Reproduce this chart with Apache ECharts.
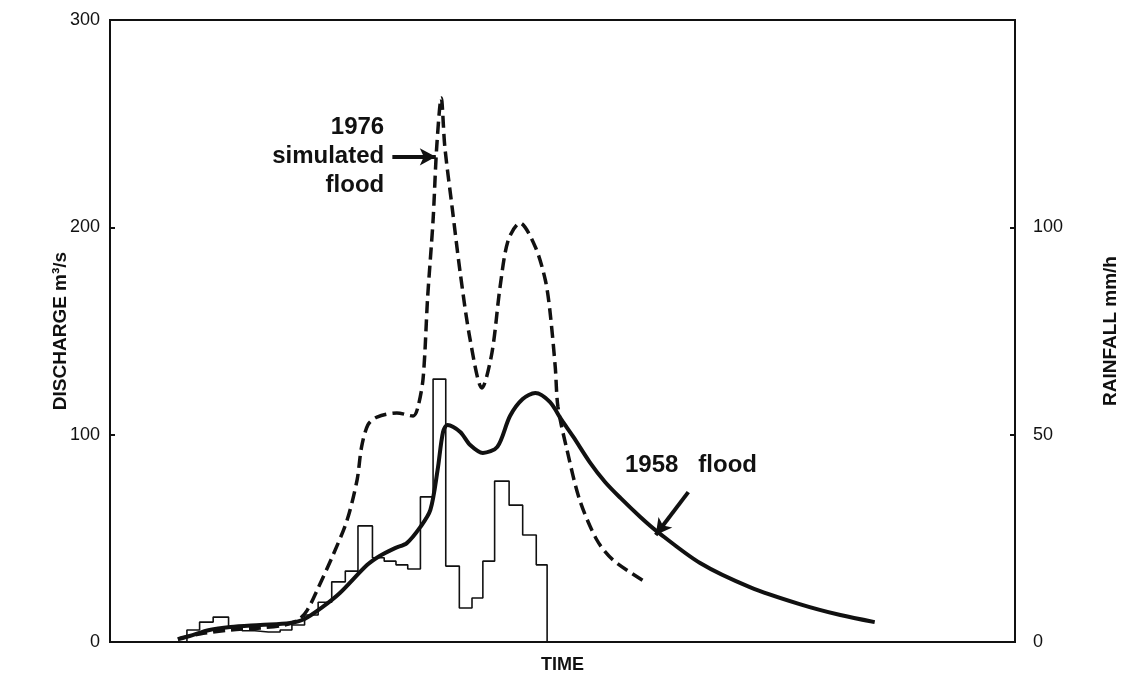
<!DOCTYPE html>
<html>
<head>
<meta charset="utf-8">
<script src="https://cdn.jsdelivr.net/npm/echarts@6/dist/echarts.min.js"></script>
<style>
  html, body { margin: 0; padding: 0; background: #fff; }
  #chart { width: 1137px; height: 677px; }
</style>
</head>
<body>
<div id="chart"></div>
<script>
// time in arbitrary units (0-100 across the frame), discharge in m3/s
const flood1958 = [
    [7.5, 1.4], [8.8, 2.9], [11.0, 5.8], [13.3, 7.2], [16.6, 8.2], [19.9, 9.2],
    [21.5, 11.1], [23.5, 16.9], [25.4, 23.6], [28.4, 37.1], [29.8, 41.5],
    [31.5, 45.3], [32.8, 47.7], [34.3, 55.5], [35.4, 63.7], [36.2, 83.0],
    [36.8, 101.3], [37.3, 104.7], [38.7, 101.3], [39.8, 95.0], [41.2, 91.2],
    [42.8, 94.1], [44.2, 109.0], [45.6, 117.2], [47.0, 120.1], [48.6, 115.8],
    [49.9, 107.1], [51.2, 98.9], [53.0, 86.8], [54.7, 77.2], [56.4, 69.5],
    [58.6, 60.3], [60.4, 53.5], [65.2, 38.1], [70.7, 26.5], [76.2, 18.3],
    [80.7, 13.0], [84.5, 9.6]
];

const flood1976 = [
    [7.5, 1.4], [9.9, 3.9], [13.3, 5.8], [16.6, 6.8], [19.3, 8.2], [20.8, 10.6],
    [21.8, 15.4], [22.9, 25.1], [24.6, 41.5], [26.2, 58.8], [27.3, 78.1],
    [27.8, 94.1], [28.5, 104.7], [29.5, 108.5], [31.7, 110.5], [33.5, 109.0],
    [34.0, 112.9], [34.6, 127.3], [35.1, 166.4], [35.7, 203.5], [36.1, 238.7],
    [36.6, 262.4], [37.0, 238.7], [37.8, 209.8], [38.7, 178.0], [39.8, 145.7],
    [41.1, 122.5], [42.2, 139.4], [43.1, 171.2], [44.0, 193.8], [45.3, 202.1],
    [47.0, 190.5], [48.1, 174.6], [48.6, 160.1], [49.2, 132.6], [49.5, 113.3],
    [50.5, 92.6], [51.9, 68.5], [53.8, 49.2], [55.6, 39.5], [59.3, 28.5]
];

// rainfall blocks: start time of each block and its intensity (mm/h)
const rainStart = [8.5, 9.9, 11.4, 13.1, 14.6, 16.0, 17.5, 18.8, 20.1, 21.5,
    23.0, 24.5, 26.0, 27.4, 29.0, 30.3, 31.6, 32.9, 34.3, 35.7, 37.1, 38.6,
    40.0, 41.2, 42.5, 44.1, 45.6, 47.1];
const rainValue = [2.9, 4.8, 6.0, 3.6, 2.7, 2.4, 2.4, 2.9, 4.1, 6.5,
    9.6, 14.5, 17.1, 28.0, 20.3, 19.5, 18.6, 17.6, 35.0, 63.4, 18.3, 8.2,
    10.6, 19.5, 38.8, 33.0, 25.8, 18.6];
const rainEnd = 48.3;

const rainSteps = [[rainStart[0], 0]]
    .concat(rainStart.map((t, i) => [t, rainValue[i]]))
    .concat([[rainEnd, 0]]);

const ink = "#111";
const font = "'Liberation Sans', Arial, Helvetica, sans-serif";

const chart = echarts.init(document.getElementById("chart"));

chart.setOption({
    animation: false,
    backgroundColor: "#fff",
    textStyle: {fontFamily: font, color: ink},
    grid: {
        left: 110, right: 122, top: 20, bottom: 35,
        outerBoundsMode: "none",
        containLabel: false,
        show: true, borderColor: ink, borderWidth: 2,
    },
    // left axis title drawn by hand so it can sit close to the tick labels
    graphic: [{
        type: "text",
        x: 61,
        y: 331,
        rotation: Math.PI / 2,
        style: {
            text: "DISCHARGE m³/s",
            font: "bold 19px " + font,
            fill: ink,
            textAlign: "center",
            textVerticalAlign: "middle",
        },
    }],
    xAxis: {
        type: "value",
        min: 0, max: 100,
        name: "TIME",
        nameLocation: "middle",
        nameGap: 14,
        nameTextStyle: {fontFamily: font, fontWeight: "bold", fontSize: 18, color: ink},
        axisLine: {lineStyle: {color: ink, width: 2}},
        axisTick: {show: false},
        axisLabel: {show: false},
        splitLine: {show: false},
    },
    yAxis: [
        {
            type: "value",
            min: 0, max: 300, interval: 100,
            axisLine: {show: true, lineStyle: {color: ink, width: 2}},
            axisTick: {show: true, inside: true, length: 5, lineStyle: {color: ink, width: 2}},
            axisLabel: {margin: 10, fontSize: 18, color: ink, fontFamily: font},
            splitLine: {show: false},
        },
        {
            type: "value",
            min: 0, max: 150, interval: 50,
            position: "right",
            name: "RAINFALL mm/h",
            nameLocation: "middle",
            nameRotate: 90,
            nameGap: 86,
            nameTextStyle: {fontFamily: font, fontWeight: "bold", fontSize: 19, color: ink},
            axisLine: {show: true, lineStyle: {color: ink, width: 2}},
            axisTick: {show: true, inside: true, length: 5, lineStyle: {color: ink, width: 2}},
            axisLabel: {
                margin: 18, fontSize: 18, color: ink, fontFamily: font,
                formatter: (v) => (v === 150 ? "" : String(v)),
            },
            splitLine: {show: false},
        },
    ],
    series: [
        {
            name: "Rainfall",
            type: "line",
            yAxisIndex: 1,
            step: "end",
            data: rainSteps,
            symbol: "none",
            lineStyle: {color: ink, width: 1.6},
            z: 2,
        },
        {
            name: "1976 simulated flood",
            type: "line",
            data: flood1976,
            smooth: 0.3,
            symbol: "none",
            lineStyle: {color: ink, width: 3.5, type: [12, 6]},
            z: 3,
            markLine: {
                silent: true,
                symbol: ["none", "arrow"],
                symbolSize: [13, 16],
                label: {show: false},
                lineStyle: {color: ink, width: 4, type: "solid"},
                data: [[{coord: [31.2, 234]}, {coord: [36.0, 234]}]],
            },
            markPoint: {
                silent: true,
                symbol: "circle",
                symbolSize: 0,
                data: [{
                    coord: [30.3, 234],
                    label: {
                        show: true,
                        position: "left",
                        distance: 0,
                        formatter: "1976\nsimulated\nflood",
                        align: "right",
                        lineHeight: 29,
                        fontFamily: font,
                        fontWeight: "bold",
                        fontSize: 24,
                        color: ink,
                    },
                }],
            },
        },
        {
            name: "1958 flood",
            type: "line",
            data: flood1958,
            smooth: 0.3,
            symbol: "none",
            lineStyle: {color: ink, width: 4},
            z: 4,
            markLine: {
                silent: true,
                symbol: ["none", "arrow"],
                symbolSize: [13, 16],
                label: {show: false},
                lineStyle: {color: ink, width: 4, type: "solid"},
                data: [[{coord: [63.9, 72.3]}, {coord: [60.3, 51.6]}]],
            },
            markPoint: {
                silent: true,
                symbol: "circle",
                symbolSize: 0,
                data: [{
                    coord: [56.9, 85.4],
                    label: {
                        show: true,
                        position: "right",
                        distance: 0,
                        formatter: "1958   flood",
                        fontFamily: font,
                        fontWeight: "bold",
                        fontSize: 24,
                        color: ink,
                    },
                }],
            },
        },
    ],
});

window.addEventListener("resize", () => chart.resize());
</script>
</body>
</html>
